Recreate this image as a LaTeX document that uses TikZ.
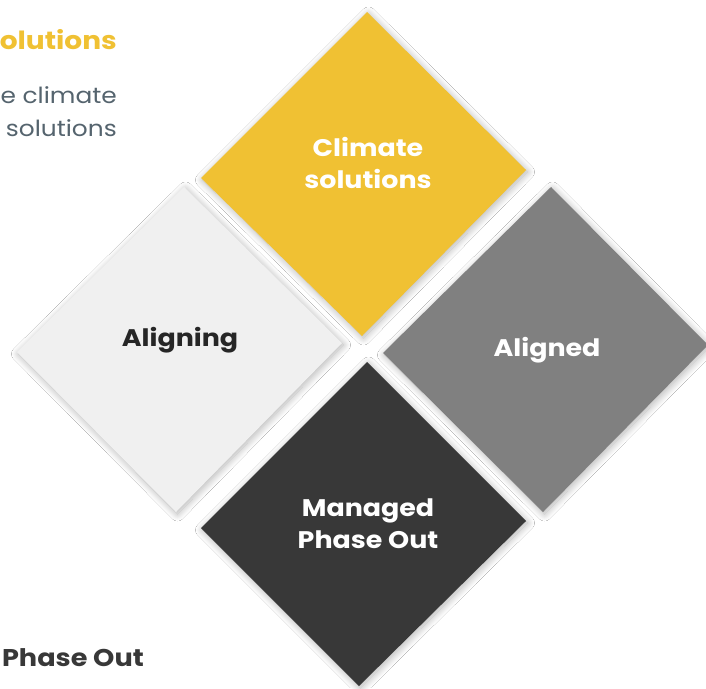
\documentclass[tikz,border=0pt]{standalone}
\usepackage{fontspec}
\setmainfont{Poppins}[FakeStretch=1.12]
\usetikzlibrary{shadows.blur}
\definecolor{cyellow}{HTML}{F0C133}
\definecolor{clight}{HTML}{F0F0F0}
\definecolor{cgray}{HTML}{808080}
\definecolor{cdark}{HTML}{383838}
\definecolor{cslate}{HTML}{55646E}
\definecolor{cink}{HTML}{262626}
\tikzset{
  tile/.style={blur shadow={shadow xshift=1.5pt, shadow yshift=-2pt, shadow blur radius=7pt, shadow blur steps=20, shadow opacity=30}},
  tilelabel/.style={align=center, font=\fontsize{24}{32}\selectfont\bfseries, inner sep=0pt},
  sidetext/.style={anchor=east, inner sep=0pt, font=\fontsize{22.2}{32}\selectfont},
  sidehead/.style={anchor=east, inner sep=0pt, font=\fontsize{25}{32}\selectfont\bfseries}
}
\begin{document}
\begin{tikzpicture}[x=1pt,y=-1pt]
\useasboundingbox (0,0) rectangle (706,688);
\clip (0,0) rectangle (706,688);
\fill[white] (0,0) rectangle (706,688);

% side captions along the left edge
\node[sidehead, text=cyellow] (t1) at (117,40) {olutions};
\node[sidetext, text=cslate] (t2) at (117,95) {e climate};
\node[sidetext, text=cslate] (t3) at (117,128) {solutions};
\node[sidehead, text=cdark, font=\fontsize{24.2}{32}\selectfont\bfseries] (t4) at (144,658) {Phase Out};

% the four tiles
\fill[tile, cyellow] (367,12) -- (526,170) -- (362,336) -- (201,178) -- cycle;
\fill[tile, clight] (184,187) -- (342,343) -- (176,512) -- (17,352) -- cycle;
\fill[tile, cgray] (551,187) -- (708,345) -- (543,512) -- (383,353) -- cycle;
\fill[tile, cdark] (367,362) -- (526,521) -- (359,686) -- (201,528) -- cycle;

% tile labels
\node[tilelabel, text=white] (climate) at (368,163) {Climate\\solutions};
\node[tilelabel, text=cink] (aligning) at (180,340) {Aligning};
\node[tilelabel, text=white] (aligned) at (547,350) {Aligned};
\node[tilelabel, text=white] (phaseout) at (368,524) {Managed\\Phase Out};
\end{tikzpicture}
\end{document}
